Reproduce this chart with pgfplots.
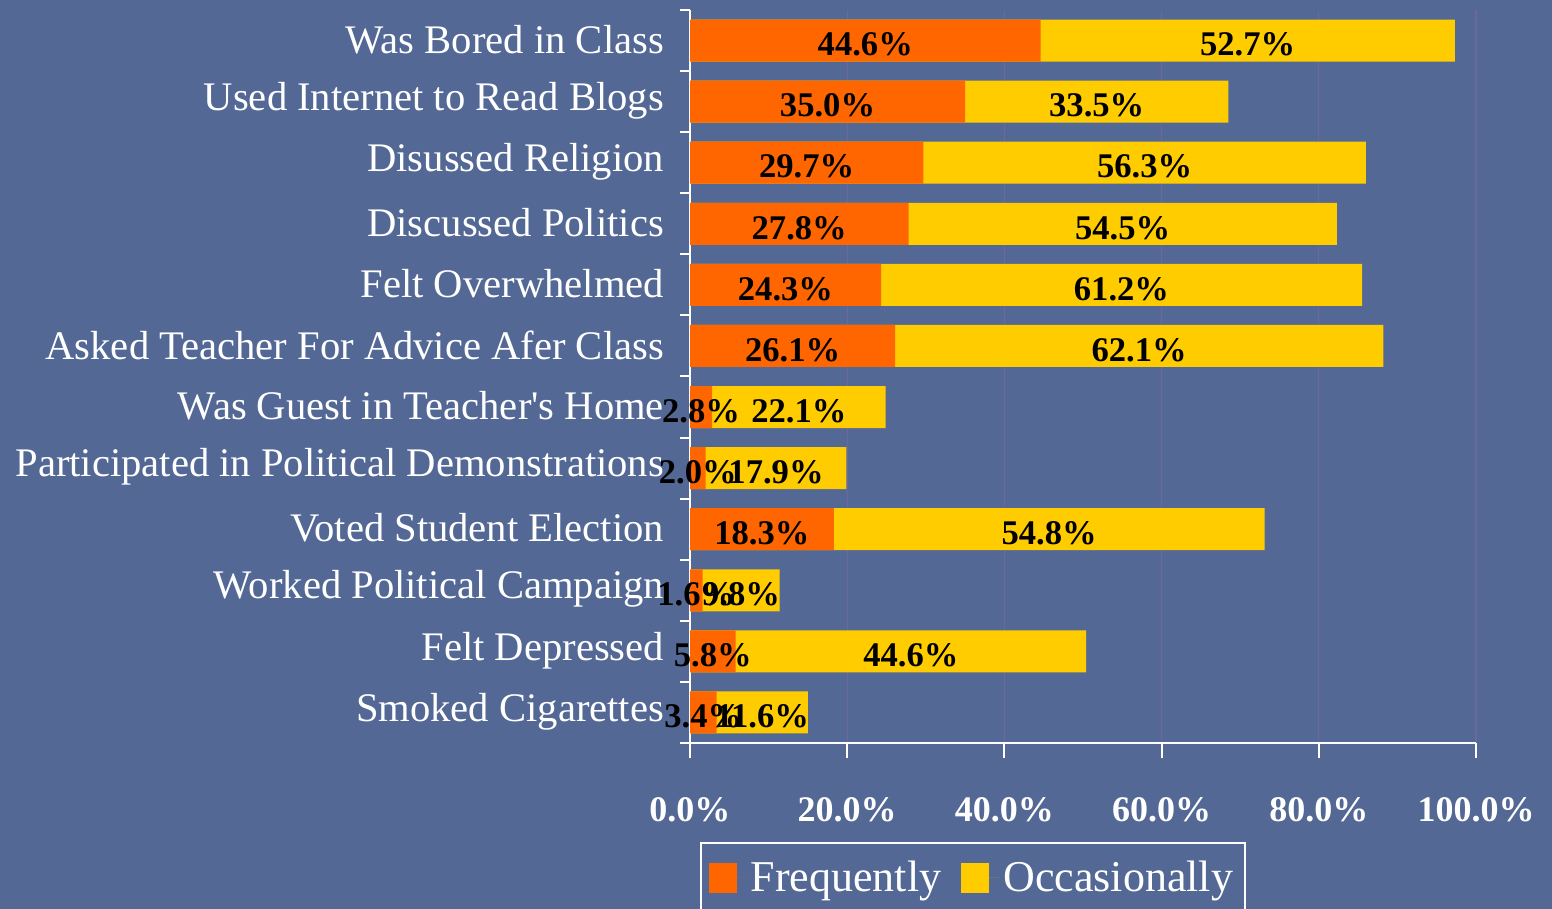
\documentclass[border=0pt]{standalone}
\usepackage{pgfplots}
\usepackage{pgfplotstable}
\pgfplotsset{compat=1.18}
\usepackage{fontspec}
\setmainfont{Liberation Serif}
\definecolor{bgc}{RGB}{83,104,149}
\definecolor{forange}{RGB}{255,102,0}
\definecolor{fyellow}{RGB}{255,204,0}
\definecolor{gridc}{RGB}{106,104,156}
\pgfplotstableread{
i f o
11 44.6 52.7
10 35.0 33.5
9 29.7 56.3
8 27.8 54.5
7 24.3 61.2
6 26.1 62.1
5 2.8 22.1
4 2.0 17.9
3 18.3 54.8
2 1.6 9.8
1 5.8 44.6
0 3.4 11.6
}\datatable
\begin{document}
\begin{tikzpicture}
\fill[bgc] (0,0) rectangle (776pt,454.5pt);
\begin{axis}[
  at={(345pt,83pt)}, anchor=south west,
  width=393pt, height=366.5pt, scale only axis,
  xmin=0, xmax=100, ymin=-0.5, ymax=11.5,
  axis x line=bottom, axis y line=left,
  axis line style={white, line width=1pt, -},
  tick align=outside,
  xtick={0,20,...,100},
  xticklabel={\pgfmathprintnumber[fixed,fixed zerofill,precision=1]{\tick}\%},
  /pgf/number format/assume math mode=true,
  xticklabel style={font=\fontsize{18}{20}\selectfont\bfseries, text=white, anchor=north, yshift=-16pt},
  major tick length=7.5pt,
  minor tick length=5pt,
  major x tick style={white, line width=1pt},
  ytick={0,...,11},
  yticklabels={Smoked Cigarettes, Felt Depressed, Worked Political Campaign, Voted Student Election, Participated in Political Demonstrations, Was Guest in Teacher\textquotesingle s Home, Asked Teacher For Advice Afer Class, Felt Overwhelmed, Discussed Politics, Disussed Religion, Used Internet to Read Blogs, Was Bored in Class},
  yticklabel style={font=\fontsize{20.3}{22}\selectfont, text=white, xshift=-2pt, yshift=0.5pt},
  major y tick style={draw=none},
  minor ytick={-0.5,0.5,...,11.5},
  minor y tick style={white, line width=1pt},
  xmajorgrids, major grid style={gridc, line width=0.6pt},
  xbar, bar width=21pt, bar shift=0pt,
  legend columns=2,
  legend style={at={(0.0127,-0.135)}, anchor=north west, draw=white, line width=0.8pt, fill=none, text=white,
    font=\fontsize{22}{24}\selectfont, inner xsep=4pt, inner ysep=7pt,
    /tikz/every even column/.append style={column sep=8pt}},
  legend image code/.code={\fill[#1] (0pt,-7.5pt) rectangle (14pt,7.5pt); \path (0pt,0pt) -- (19pt,0pt);},
]
\addlegendimage{fill=forange, draw=none}
\addlegendimage{fill=fyellow, draw=none}
\addplot[fill=fyellow, draw=none, forget plot] table[x expr=\thisrow{f}+\thisrow{o}, y=i] {\datatable};
\addplot[fill=forange, draw=none, forget plot] table[x=f, y=i] {\datatable};
\addplot[draw=none, mark=none, forget plot, bar width=0pt, fill=none,
  point meta=explicit, nodes near coords={\pgfmathprintnumber[fixed,fixed zerofill,precision=1]{\pgfplotspointmeta}\%},
  every node near coord/.append style={anchor=center, font=\fontsize{17.3}{19}\selectfont\bfseries, text=black, yshift=-2pt}]
  table[x expr=\thisrow{f}/2, y=i, meta=f] {\datatable};
\addplot[draw=none, mark=none, forget plot, bar width=0pt, fill=none,
  point meta=explicit, nodes near coords={\pgfmathprintnumber[fixed,fixed zerofill,precision=1]{\pgfplotspointmeta}\%},
  every node near coord/.append style={anchor=center, font=\fontsize{17.3}{19}\selectfont\bfseries, text=black, yshift=-2pt}]
  table[x expr=\thisrow{f}+\thisrow{o}/2, y=i, meta=o] {\datatable};
\legend{Frequently, Occasionally}
\end{axis}
\pgfresetboundingbox
\useasboundingbox (0,0) rectangle (776pt,454.5pt);
\end{tikzpicture}
\end{document}
